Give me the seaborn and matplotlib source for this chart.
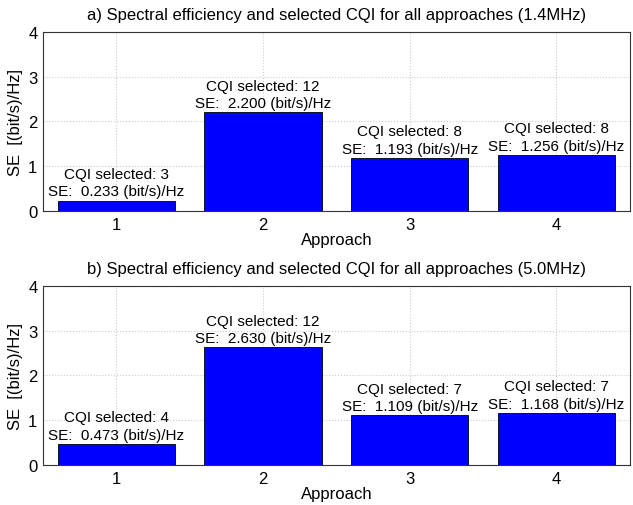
import matplotlib
matplotlib.use("Agg")
import matplotlib.pyplot as plt
import seaborn as sns
import pandas as pd

approach = [1, 2, 3, 4]
se_14 = [0.233, 2.200, 1.193, 1.256]
cqi_14 = [3, 12, 8, 8]
se_50 = [0.473, 2.630, 1.109, 1.168]
cqi_50 = [4, 12, 7, 7]
titles = ["a) Spectral efficiency and selected CQI for all approaches (1.4MHz)",
          "b) Spectral efficiency and selected CQI for all approaches (5.0MHz)"]

sns.set_style("white")
plt.rcParams['font.family'] = ['Liberation Sans', 'DejaVu Sans']
plt.rcParams['text.color'] = 'black'
plt.rcParams['xtick.color'] = 'black'
plt.rcParams['ytick.color'] = 'black'
plt.rcParams['axes.labelcolor'] = 'black'

fig = plt.figure(figsize=(6.33, 5.06), dpi=100)
ax1 = fig.add_axes([0.068, 0.581, 0.927, 0.354])
ax2 = fig.add_axes([0.068, 0.079, 0.927, 0.354])

for ax, se, cqi, title in [(ax1, se_14, cqi_14, titles[0]), (ax2, se_50, cqi_50, titles[1])]:
    df = pd.DataFrame({"Approach": approach, "SE": se})
    sns.barplot(data=df, x="Approach", y="SE", native_scale=True, color="#0000ff",
                saturation=1, edgecolor="black", linewidth=0.6, width=0.8, ax=ax, zorder=3)
    ax.set_xlim(0.5, 4.5)
    ax.set_ylim(0, 4)
    ax.set_xticks(approach)
    ax.set_yticks([0, 1, 2, 3, 4])
    ax.tick_params(direction="in", labelsize=12, length=4, color="#333333", pad=4)
    ax.grid(True, color="#cccccc", linestyle=":", linewidth=0.8, zorder=0)
    ax.set_axisbelow(True)
    for s in ax.spines.values():
        s.set_visible(True)
        s.set_color("#333333")
        s.set_linewidth(0.8)
    ax.set_xlabel("Approach", fontsize=12, labelpad=0)
    ax.set_ylabel("SE  [(bit/s)/Hz]", fontsize=12, labelpad=4)
    ax.set_title(title, fontsize=12, pad=9)
    for x, v, c in zip(approach, se, cqi):
        ax.annotate(f"CQI selected: {c}\nSE:  {v:.3f} (bit/s)/Hz", xy=(x, v), xytext=(0, 1.5),
                    textcoords="offset points", ha="center", va="bottom", fontsize=11,
                    linespacing=1.3, zorder=5)

fig.savefig("out.png", dpi=100)
